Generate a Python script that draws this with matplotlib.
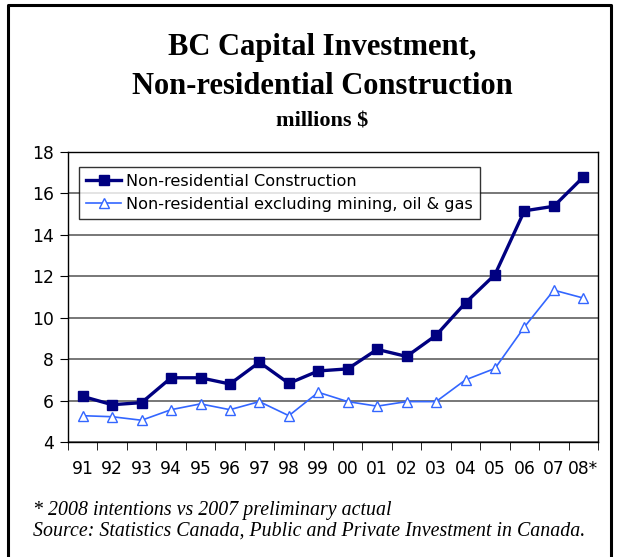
import matplotlib
matplotlib.use("Agg")
import matplotlib.pyplot as plt
from matplotlib.lines import Line2D

years = ["91", "92", "93", "94", "95", "96", "97", "98", "99", "00",
         "01", "02", "03", "04", "05", "06", "07", "08*"]
construction = [6.2, 5.8, 5.9, 7.1, 7.1, 6.8, 7.85, 6.83, 7.43, 7.53,
                8.47, 8.13, 9.15, 10.72, 12.08, 15.16, 15.38, 16.79]
excl_mining = [5.27, 5.22, 5.05, 5.56, 5.84, 5.56, 5.95, 5.27, 6.4, 5.95,
               5.73, 5.95, 5.95, 7.0, 7.55, 9.55, 11.33, 10.95]

fig = plt.figure(figsize=(6.23, 5.57), dpi=100)
ax = fig.add_axes([68/623, 1-442/557, 530/623, 290/557])

x = list(range(len(years)))
ax.plot(x, construction, color="#000080", lw=2.4, marker="s", ms=7.5,
        mfc="#000080", mec="#000080", label="Non-residential Construction")
ax.plot(x, excl_mining, color="#3366FF", lw=1.2, marker="^", ms=7.5,
        mfc="white", mec="#3366FF", mew=1,
        label="Non-residential excluding mining, oil & gas")

ax.set_ylim(4, 18)
ax.set_xlim(-0.5, len(years) - 0.5)
ax.set_yticks(range(4, 19, 2))
ax.yaxis.grid(True, color="#606060", lw=1.2)
ax.set_axisbelow(True)
for s in ax.spines.values():
    s.set_color("black")
    s.set_linewidth(1)

# labels in the middle of each category, ticks on the boundaries
ax.set_xticks(x)
ax.set_xticklabels(years)
ax.set_xticks([i - 0.5 for i in range(len(years) + 1)], minor=True)
ax.tick_params(axis="x", which="major", length=0, pad=13, labelsize=12.3)
ax.tick_params(axis="x", which="minor", length=6, direction="out")
ax.tick_params(axis="y", length=6, direction="out", labelsize=12.3, pad=4)

leg = ax.legend(loc="upper left", bbox_to_anchor=(0.02, 0.95), fontsize=11.6,
                frameon=True, fancybox=False, handlelength=2.2,
                handletextpad=0.3, borderpad=0.45, labelspacing=0.5,
                borderaxespad=0)
leg.get_frame().set_edgecolor("black")
leg.get_frame().set_linewidth(1)

fig.text(0.517, 1-48/557, "BC Capital Investment,", ha="center", va="center",
         family="Liberation Serif", weight="bold", fontsize=22)
fig.text(0.517, 1-87/557, "Non-residential Construction", ha="center", va="center",
         family="Liberation Serif", weight="bold", fontsize=22)
fig.text(0.517, 1-121/557, "millions $", ha="center", va="center",
         family="Liberation Serif", weight="bold", fontsize=16)

fig.text(33/623, 1-511/557, "* 2008 intentions vs 2007 preliminary actual",
         ha="left", va="center", family="Liberation Serif", style="italic", fontsize=14.3)
fig.text(33/623, 1-531/557, "Source: Statistics Canada, Public and Private Investment in Canada.",
         ha="left", va="center", family="Liberation Serif", style="italic", fontsize=14.3)

# outer frame, open at the bottom
fx = [8/623, 8/623, 611/623, 611/623]
fy = [0, 1-5/557, 1-5/557, 0]
fig.add_artist(Line2D(fx, fy, color="black", lw=2.2, transform=fig.transFigure))

fig.savefig("out.png", dpi=100)
